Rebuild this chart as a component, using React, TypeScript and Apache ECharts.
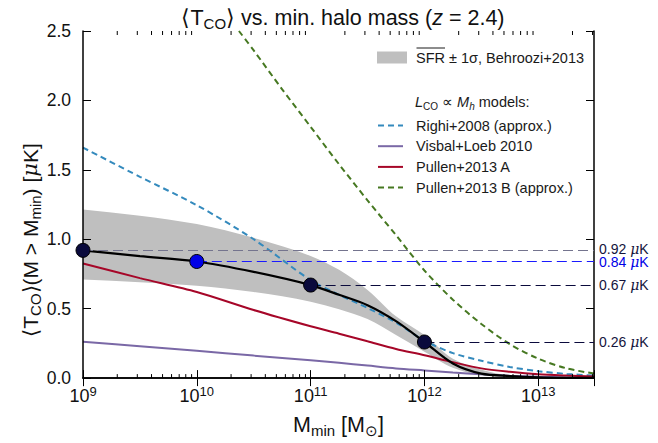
import React, { useEffect, useRef } from "react";
import * as echarts from "echarts";

// ---- data (x given as log10 of minimum halo mass) ----
const LOG_GRID = [9, 9.5, 10, 10.5, 11, 11.25, 11.5, 11.75, 12, 12.25, 12.5, 12.75, 13, 13.25, 13.49];
const MEAN_T = [0.92, 0.878, 0.84, 0.765, 0.67, 0.6, 0.525, 0.41, 0.26, 0.105, 0.032, 0.015, 0.006, 0.002, 0.001];
const BAND_UPPER = [1.215, 1.17, 1.11, 1.01, 0.88, 0.78, 0.635, 0.445, 0.31, 0.14, 0.06, 0.02, 0.008, 0.003, 0.001];
const BAND_LOWER = [0.71, 0.69, 0.665, 0.62, 0.55, 0.495, 0.425, 0.31, 0.19, 0.075, 0.02, 0.008, 0.003, 0.001, 0];
const RIGHI = [1.66, 1.45, 1.245, 1.0, 0.705, 0.6, 0.505, 0.4, 0.27, 0.18, 0.125, 0.08, 0.05, 0.03, 0.018];
const VISBAL = [0.262, 0.23, 0.197, 0.162, 0.128, 0.11, 0.09, 0.07, 0.055, 0.04, 0.027, 0.017, 0.01, 0.005, 0.003];
const PULLEN_A = [0.826, 0.72, 0.62, 0.49, 0.373, 0.32, 0.265, 0.21, 0.165, 0.115, 0.07, 0.045, 0.027, 0.018, 0.012];
const PULLEN_B_LOG = [10.37, 10.5, 10.75, 11, 11.25, 11.5, 11.75, 12, 12.25, 12.5, 12.75, 13, 13.25, 13.49];
const PULLEN_B = [2.5, 2.36, 2.08, 1.81, 1.54, 1.28, 1.03, 0.775, 0.565, 0.39, 0.245, 0.14, 0.07, 0.033];

const DOT_LOG = [9, 10, 11, 12];
const DOT_T = [0.92, 0.84, 0.67, 0.26];
const DOT_LABELS = ["0.92", "0.84", "0.67", "0.26"];

const X_MIN_LOG = 9;
const X_MAX_LOG = 13.49;
const MINOR_DECADES = [9, 10, 11, 12, 13];
const MINOR_MULT = [2, 3, 4, 5, 6, 7, 8, 9];

const NAMES = {
  band: "SFR \u00b1 1\u03c3, Behroozi+2013",
  righi: "Righi+2008 (approx.)",
  visbal: "Visbal+Loeb 2010",
  pa: "Pullen+2013 A",
  pb: "Pullen+2013 B (approx.)",
};

const FONT = "'Liberation Sans', Arial, Helvetica, sans-serif";
const NAVY = "#0a0a3c";
const BLUE = "#0000e6";
const INK = "#111";

const toM = (l: number) => Math.pow(10, l);
const pairs = (xs: number[], ys: number[]) => xs.map((x, i) => [toM(x), ys[i]]);

// monotone cubic bezier segments through pixel points (x increasing)
function monoSegments(p: number[][]) {
  const n = p.length;
  const dx: number[] = [];
  const s: number[] = [];
  for (let i = 0; i < n - 1; i++) {
    dx.push(p[i + 1][0] - p[i][0]);
    s.push((p[i + 1][1] - p[i][1]) / (dx[i] || 1e-9));
  }
  const m: number[] = [];
  for (let i = 0; i < n; i++) {
    if (i === 0) m.push(s[0]);
    else if (i === n - 1) m.push(s[n - 2]);
    else if (s[i - 1] * s[i] <= 0) m.push(0);
    else {
      const a = dx[i - 1];
      const b = dx[i];
      m.push((3 * (a + b)) / ((2 * b + a) / s[i - 1] + (b + 2 * a) / s[i]));
    }
  }
  const segs: number[][] = [];
  for (let i = 0; i < n - 1; i++) {
    const h = dx[i] / 3;
    segs.push([p[i][0] + h, p[i][1] + m[i] * h, p[i + 1][0] - h, p[i + 1][1] - m[i + 1] * h]);
  }
  return segs;
}

export default function App() {
  const ref = useRef<HTMLDivElement>(null);
  useEffect(() => {
    if (!ref.current) return;
    const chart = echarts.init(ref.current, undefined, { renderer: "svg" });
    const xMax = toM(X_MAX_LOG);
    const minor: number[][] = [];
    MINOR_DECADES.forEach((d) =>
      MINOR_MULT.forEach((k) => {
        const m = k * Math.pow(10, d);
        if (m < xMax) minor.push([m, 0]);
      })
    );

    const dotColors = [NAVY, BLUE, NAVY, NAVY];
    const lineColors = ["#74748e", "#1a1aff", NAVY, NAVY];
    const labelColors = ["#14143c", BLUE, "#14143c", "#14143c"];
    const labelShift = [-1, 1, 0, 0];

    const markData = DOT_LOG.map((l, i) => [
      {
        coord: [toM(l), DOT_T[i]],
        lineStyle: { color: lineColors[i], type: [10, 5], width: 1.2 },
        label: {
          show: true,
          position: "end",
          distance: 5,
          offset: [0, labelShift[i]],
          formatter: `${DOT_LABELS[i]} {i|\u03bc}K`,
          color: labelColors[i],
          fontSize: 14,
          fontFamily: FONT,
          rich: { i: { fontStyle: "italic", fontSize: 14, fontFamily: "'DejaVu Serif', serif", color: labelColors[i] } },
        },
      },
      { coord: [xMax, DOT_T[i]] },
    ]);

    const subStyle = (size: number, color: string) => ({
      fontSize: size,
      fontFamily: FONT,
      color,
      verticalAlign: "bottom",
      lineHeight: size,
    });

    const frameAxis = {
      axisLine: { show: true, lineStyle: { color: "#000", width: 1.5 } },
      axisTick: { show: true, inside: true, length: 8, lineStyle: { color: "#000", width: 1 } },
      splitLine: { show: false },
      z: 4,
    };

    const option: any = {
      animation: false,
      backgroundColor: "#fff",
      title: {
        text: "\u27e8T{sub|CO}\u27e9 vs. min. halo mass ({i|z} = 2.4)",
        left: 338,
        top: 0,
        textAlign: "center",
        textStyle: {
          fontFamily: FONT,
          fontSize: 21.5,
          fontWeight: "normal",
          color: INK,
          lineHeight: 26,
          rich: {
            sub: subStyle(15, INK),
            i: { fontSize: 21.5, fontFamily: FONT, fontStyle: "italic", color: INK },
          },
        },
      },
      grid: { left: 83, right: 64, top: 31, bottom: 59 },
      xAxis: [
        {
          type: "log",
          logBase: 10,
          min: toM(X_MIN_LOG),
          max: xMax,
          name: "M{sub|min} [M{sub|\u2299}]",
          nameLocation: "middle",
          nameGap: 31,
          nameTextStyle: {
            fontFamily: FONT,
            fontSize: 21.5,
            color: INK,
            lineHeight: 26,
            rich: { sub: subStyle(15, INK) },
          },
          ...frameAxis,
          axisLabel: {
            margin: 7,
            fontFamily: FONT,
            fontSize: 18,
            color: INK,
            lineHeight: 22,
            formatter: (v: number) => {
              const e = Math.log10(v);
              if (Math.abs(e - Math.round(e)) > 1e-6) return "";
              return `{b|10}{s|${Math.round(e)}}`;
            },
            rich: {
              b: { fontSize: 18, fontFamily: FONT, color: INK },
              s: { fontSize: 13, fontFamily: FONT, color: INK, verticalAlign: "top", lineHeight: 13 },
            },
          },
        },
        {
          type: "log",
          logBase: 10,
          position: "top",
          min: toM(X_MIN_LOG),
          max: xMax,
          ...frameAxis,
          axisLabel: { show: false },
        },
      ],
      yAxis: [
        {
          type: "value",
          min: 0,
          max: 2.5,
          interval: 0.5,
          ...frameAxis,
          axisLabel: { margin: 12, fontFamily: FONT, fontSize: 17.5, color: INK, formatter: (v: number) => v.toFixed(1) },
        },
        {
          type: "value",
          position: "right",
          min: 0,
          max: 2.5,
          interval: 0.5,
          ...frameAxis,
          axisLabel: { show: false },
        },
      ],
      legend: [
        {
          left: 377,
          top: 50,
          padding: 0,
          itemWidth: 30,
          itemHeight: 12,
          data: [{ name: NAMES.band, icon: "rect" }],
          textStyle: { fontFamily: FONT, fontSize: 14.5, color: "#1a1a1a", padding: [0, 0, 0, 4] },
          selectedMode: false,
        },
        {
          left: 377,
          top: 118,
          padding: 0,
          orient: "vertical",
          itemWidth: 25,
          itemHeight: 14,
          itemGap: 5.7,
          data: [NAMES.righi, NAMES.visbal, NAMES.pa, NAMES.pb],
          itemStyle: { opacity: 0 },
          textStyle: { fontFamily: FONT, fontSize: 14.5, color: "#1a1a1a", padding: [0, 0, 0, 8] },
          selectedMode: false,
        },
      ],
      graphic: [
        {
          type: "text",
          left: 415,
          top: 93,
          style: {
            text: "{i|L}{sub|CO} \u221d {i|M}{subi|h} models:",
            fontFamily: FONT,
            fontSize: 14.5,
            fill: "#1a1a1a",
            lineHeight: 18,
            rich: {
              i: { fontStyle: "italic", fontSize: 14.5, fontFamily: FONT, fill: "#1a1a1a" },
              sub: { fontSize: 10, fontFamily: FONT, fill: "#1a1a1a", verticalAlign: "bottom", lineHeight: 10 },
              subi: { fontSize: 10, fontStyle: "italic", fontFamily: FONT, fill: "#1a1a1a", verticalAlign: "bottom", lineHeight: 10 },
            },
          },
        },
        {
          type: "line",
          shape: { x1: 416.5, y1: 48, x2: 445, y2: 48 },
          style: { stroke: "#1a1a1a", lineWidth: 1 },
        },
        {
          type: "text",
          x: 30,
          y: 240,
          rotation: Math.PI / 2,
          style: {
            text: "\u27e8T{sub|CO}\u27e9(M > M{sub|min}) [{i|\u03bc}K]",
            fontFamily: FONT,
            fontSize: 21,
            fill: INK,
            lineHeight: 26,
            align: "center",
            verticalAlign: "middle",
            rich: {
              sub: { fontSize: 15, fontFamily: FONT, fill: INK, verticalAlign: "bottom", lineHeight: 15 },
              i: { fontSize: 21, fontStyle: "italic", fontFamily: "'DejaVu Serif', serif", fill: INK },
            },
          },
        },
      ],
      series: [
        {
          name: NAMES.band,
          type: "custom",
          silent: true,
          clip: true,
          z: 1,
          itemStyle: { color: "#bfbfbf" },
          data: [[toM(X_MIN_LOG), 0]],
          encode: { x: 0, y: 1 },
          renderItem: (params: any, api: any) => {
            const up = LOG_GRID.map((l, i) => api.coord([toM(l), BAND_UPPER[i]]));
            const lo = LOG_GRID.map((l, i) => api.coord([toM(l), BAND_LOWER[i]]));
            const su = monoSegments(up);
            const sl = monoSegments(lo);
            let d = `M${up[0][0]},${up[0][1]}`;
            su.forEach((c, i) => {
              d += `C${c[0]},${c[1]},${c[2]},${c[3]},${up[i + 1][0]},${up[i + 1][1]}`;
            });
            d += `L${lo[lo.length - 1][0]},${lo[lo.length - 1][1]}`;
            for (let i = sl.length - 1; i >= 0; i--) {
              const c = sl[i];
              d += `C${c[2]},${c[3]},${c[0]},${c[1]},${lo[i][0]},${lo[i][1]}`;
            }
            d += "Z";
            return {
              type: "path",
              shape: { pathData: d },
              style: { fill: "#bfbfbf", stroke: "none" },
            };
          },
        },
        {
          name: NAMES.righi,
          type: "line",
          data: pairs(LOG_GRID, RIGHI),
          symbol: "none",
          smooth: 0.3,
          itemStyle: { color: "#348ABD" },
          lineStyle: { color: "#348ABD", width: 2, type: [6, 4] },
          z: 3,
        },
        {
          name: NAMES.visbal,
          type: "line",
          data: pairs(LOG_GRID, VISBAL),
          symbol: "none",
          smooth: 0.3,
          itemStyle: { color: "#7A68A6" },
          lineStyle: { color: "#7A68A6", width: 2 },
          z: 3,
        },
        {
          name: NAMES.pa,
          type: "line",
          data: pairs(LOG_GRID, PULLEN_A),
          symbol: "none",
          smooth: 0.3,
          itemStyle: { color: "#A60628" },
          lineStyle: { color: "#A60628", width: 2 },
          z: 3,
        },
        {
          name: NAMES.pb,
          type: "line",
          data: pairs(PULLEN_B_LOG, PULLEN_B),
          symbol: "none",
          smooth: 0.3,
          itemStyle: { color: "#467821" },
          lineStyle: { color: "#467821", width: 2, type: [6, 4] },
          z: 3,
        },
        {
          name: "mean",
          type: "line",
          data: pairs(LOG_GRID, MEAN_T),
          symbol: "none",
          smooth: 0.3,
          lineStyle: { color: "#000", width: 2.2 },
          z: 3,
        },
        {
          name: "dots",
          type: "scatter",
          data: DOT_LOG.map((l, i) => ({
            value: [toM(l), DOT_T[i]],
            itemStyle: { color: dotColors[i], borderColor: "#000", borderWidth: 1, opacity: 1 },
          })),
          symbolSize: 14,
          clip: false,
          z: 5,
          markLine: {
            silent: true,
            symbol: ["none", "none"],
            animation: false,
            data: markData,
          },
        },
        {
          name: "minorTicks",
          type: "custom",
          silent: true,
          clip: false,
          data: minor,
          encode: { x: 0, y: 1 },
          renderItem: (params: any, api: any) => {
            const m = api.value(0);
            const pb = api.coord([m, 0]);
            const pt = api.coord([m, 2.5]);
            return {
              type: "group",
              children: [
                { type: "line", shape: { x1: pb[0], y1: pb[1], x2: pb[0], y2: pb[1] - 4 }, style: { stroke: "#000", lineWidth: 1 } },
                { type: "line", shape: { x1: pt[0], y1: pt[1], x2: pt[0], y2: pt[1] + 4 }, style: { stroke: "#000", lineWidth: 1 } },
              ],
            };
          },
          z: 6,
        },
      ],
    };
    chart.setOption(option);
    return () => chart.dispose();
  }, []);
  return <div ref={ref} style={{ position: "fixed", left: 0, top: 0, width: 658, height: 443 }} />;
}
